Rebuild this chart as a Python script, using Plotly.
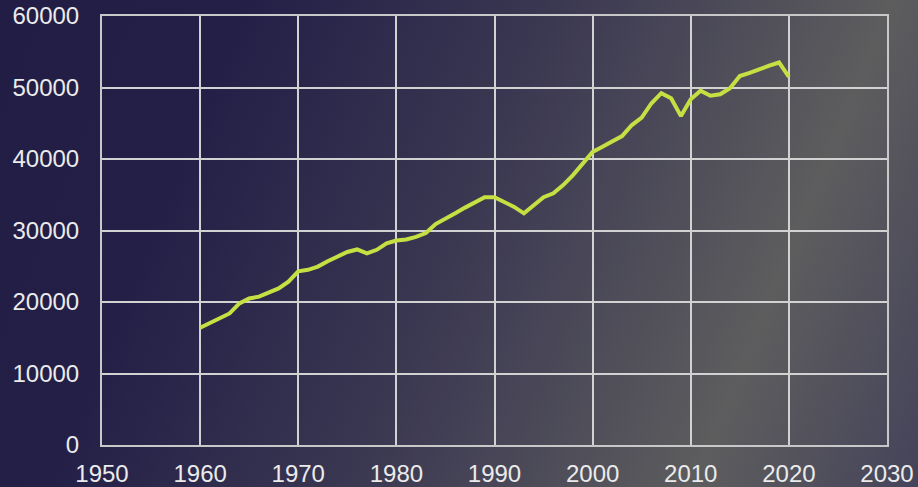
import base64
import plotly.graph_objects as go

years = list(range(1960, 2021))
gdp_per_capita = [
    16400, 17100, 17700, 18400, 19800, 20500, 20750, 21300, 21900, 22850,
    24300, 24500, 24950, 25700, 26400, 27000, 27350, 26800, 27300, 28200,
    28600, 28750, 29100, 29650, 30900, 31600, 32400, 33200, 33900, 34650,
    34650, 34000, 33300, 32400, 33550, 34650, 35200, 36350, 37750, 39400,
    41000, 41700, 42400, 43200, 44750, 45800, 47800, 49200, 48500, 46000,
    48350, 49550, 48850, 49050, 49900, 51600, 52050, 52600, 53050, 53500,
    51500,
]
x_ticks = [1950, 1960, 1970, 1980, 1990, 2000, 2010, 2020, 2030]
y_ticks = [0, 10000, 20000, 30000, 40000, 50000, 60000]

W, H = 918, 487
ML, MR, MT, MB = 102, 31, 16, 42
PW, PH = W - ML - MR, H - MT - MB

svg = f'''<svg xmlns="http://www.w3.org/2000/svg" width="{W}" height="{H}" viewBox="0 0 {W} {H}" preserveAspectRatio="none">
<defs><linearGradient id="g" gradientUnits="userSpaceOnUse" x1="0" y1="0" x2="956" y2="393">
<stop offset="0" stop-color="#211d45"/>
<stop offset="0.22" stop-color="#231f47"/>
<stop offset="0.5" stop-color="#3b3852"/>
<stop offset="0.8" stop-color="#5d5d5e"/>
<stop offset="1" stop-color="#45435a"/>
</linearGradient></defs>
<rect x="0" y="0" width="{W}" height="{H}" fill="url(#g)"/></svg>'''
bg_src = "data:image/svg+xml;base64," + base64.b64encode(svg.encode()).decode()

fig = go.Figure()
fig.add_trace(go.Scatter(
    x=years, y=gdp_per_capita, mode="lines",
    line=dict(color="#c6e043", width=4),
    hoverinfo="x+y",
))

font = dict(family="Liberation Sans, Arial, sans-serif", size=24, color="#ebebeb")

fig.update_layout(
    width=W, height=H,
    margin=dict(l=ML, r=MR, t=MT, b=MB, pad=0, autoexpand=False),
    paper_bgcolor="#2a2748",
    plot_bgcolor="rgba(0,0,0,0)",
    showlegend=False,
    font=font,
    images=[dict(
        source=bg_src, xref="paper", yref="paper",
        x=-ML / PW, y=1 + MT / PH, sizex=W / PW, sizey=H / PH,
        xanchor="left", yanchor="top", sizing="stretch", layer="below",
    )],
    xaxis=dict(
        range=[1950, 2030], tickvals=x_ticks, ticktext=[str(v) for v in x_ticks],
        showgrid=True, gridcolor="#d2d2d2", gridwidth=1.6,
        showline=True, mirror=True, linecolor="#c8c8c8", linewidth=2,
        zeroline=False, ticks="", tickfont=font, ticklabelstandoff=6,
        automargin=False, fixedrange=True,
    ),
    yaxis=dict(
        range=[0, 60000], tickvals=y_ticks, ticktext=[str(v) for v in y_ticks],
        showgrid=True, gridcolor="#d2d2d2", gridwidth=1.6,
        showline=True, mirror=True, linecolor="#c8c8c8", linewidth=2,
        zeroline=False, ticks="", tickfont=font, ticklabelstandoff=16,
        automargin=False, fixedrange=True,
    ),
)

post = "document.body.style.margin='0';document.body.style.overflow='hidden';"
fig.write_html("out.html", config={"displayModeBar": False}, post_script=post)
